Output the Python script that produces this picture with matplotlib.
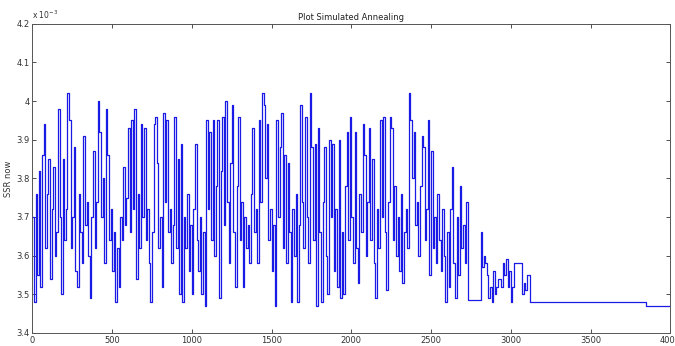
import numpy as np
from matplotlib import pyplot as plt

# SSR values (x 10^-3), one sample every 10 iterations from 0 to 2720
ssr_noisy = [
    3.70, 3.48, 3.76, 3.55, 3.82, 3.52, 3.86, 3.94, 3.62, 3.76,
    3.85, 3.54, 3.72, 3.83, 3.60, 3.66, 3.98, 3.70, 3.50, 3.85,
    3.64, 3.72, 4.02, 3.95, 3.62, 3.70, 3.88, 3.56, 3.52, 3.76,
    3.66, 3.58, 3.91, 3.68, 3.74, 3.60, 3.49, 3.70, 3.87, 3.62,
    3.74, 4.00, 3.92, 3.70, 3.80, 3.58, 3.98, 3.86, 3.64, 3.72,
    3.56, 3.66, 3.48, 3.62, 3.52, 3.70, 3.64, 3.83, 3.68, 3.75,
    3.93, 3.66, 3.95, 3.72, 3.98, 3.54, 3.76, 3.62, 3.94, 3.70,
    3.93, 3.64, 3.72, 3.58, 3.48, 3.66, 3.94, 3.96, 3.84, 3.62,
    3.70, 3.52, 3.97, 3.74, 3.95, 3.66, 3.72, 3.58, 3.68, 3.96,
    3.62, 3.85, 3.50, 3.89, 3.48, 3.70, 3.62, 3.76, 3.56, 3.68,
    3.50, 3.72, 3.89, 3.64, 3.56, 3.70, 3.50, 3.66, 3.47, 3.95,
    3.72, 3.92, 3.64, 3.95, 3.60, 3.78, 3.95, 3.49, 3.82, 3.96,
    3.68, 4.00, 3.74, 3.58, 3.84, 3.99, 3.66, 3.52, 3.78, 3.96,
    3.64, 3.74, 3.52, 3.70, 3.62, 3.68, 3.58, 3.76, 3.93, 3.66,
    3.72, 3.58, 3.95, 3.74, 4.02, 3.99, 3.80, 3.94, 3.64, 3.72,
    3.56, 3.68, 3.47, 3.95, 3.70, 3.88, 3.97, 3.62, 3.86, 3.58,
    3.84, 3.66, 3.48, 3.72, 3.60, 3.76, 3.48, 3.68, 3.99, 3.74,
    3.62, 3.96, 3.70, 3.58, 4.02, 3.88, 3.64, 3.89, 3.47, 3.93,
    3.66, 3.48, 3.74, 3.88, 3.60, 3.50, 3.90, 3.70, 3.89, 3.56,
    3.72, 3.52, 3.90, 3.49, 3.66, 3.50, 3.78, 3.92, 3.64, 3.96,
    3.70, 3.58, 3.92, 3.62, 3.53, 3.76, 3.66, 3.94, 3.86, 3.60,
    3.74, 3.93, 3.64, 3.85, 3.58, 3.49, 3.72, 3.62, 3.95, 3.70,
    3.96, 3.66, 3.51, 3.74, 3.96, 3.93, 3.64, 3.78, 3.60, 3.70,
    3.56, 3.76, 3.53, 3.66, 3.72, 3.62, 4.02, 3.95, 3.80, 3.92,
    3.68, 3.74, 3.60, 3.78, 3.91, 3.88, 3.64, 3.72, 3.95, 3.55,
    3.87, 3.62, 3.70, 3.58, 3.76, 3.64, 3.56, 3.72, 3.60, 3.48,
    3.66, 3.52, 3.72, 3.83, 3.58, 3.49, 3.70, 3.55, 3.78, 3.62,
    3.68, 3.58, 3.74,
]
iter_noisy = list(range(0, 2730, 10))

# late phase: iteration where the value changes, and the new value
iter_tail = [2730, 2810, 2820, 2830, 2840, 2850, 2860, 2870, 2880, 2890,
             2900, 2910, 2920, 2940, 2950, 2960, 2970, 2980, 2990, 3000,
             3010, 3020, 3070, 3080, 3090, 3100, 3120, 3850, 4000]
ssr_tail = [3.485, 3.66, 3.57, 3.60, 3.58, 3.55, 3.49, 3.52, 3.48, 3.56,
            3.50, 3.52, 3.54, 3.52, 3.58, 3.55, 3.59, 3.52, 3.56, 3.48,
            3.52, 3.58, 3.50, 3.53, 3.51, 3.55, 3.48, 3.47, 3.47]

x = iter_noisy + iter_tail
y = ssr_noisy + ssr_tail

fig = plt.figure(figsize=(6.75, 3.46), dpi=100)
ax = fig.add_axes([0.048, 0.038, 0.945, 0.893])
ax.plot(x, y, color='#1a1ae6', linewidth=0.9, drawstyle='steps-post')

ax.set_xlim(0, 4000)
ax.set_ylim(3.4, 4.2)
ax.set_xticks(np.arange(0, 4001, 500))
yt = [3.4, 3.5, 3.6, 3.7, 3.8, 3.9, 4.0, 4.1, 4.2]
ax.set_yticks(yt)
ax.set_yticklabels(['3.4', '3.5', '3.6', '3.7', '3.8', '3.9', '4', '4.1', '4.2'])
ax.tick_params(direction='in', top=True, right=True, labelsize=6,
               colors='#333333', length=3, width=0.6, pad=2)
for s in ax.spines.values():
    s.set_color('#555555')
    s.set_linewidth(0.7)

ax.set_title('Plot Simulated Annealing', fontsize=6, color='#222222', pad=3)
ax.set_ylabel('SSR now', fontsize=6, color='#333333', labelpad=2)
ax.text(0.0, 1.008, r'x 10$^{-3}$', transform=ax.transAxes, fontsize=5.5,
        color='#333333', ha='left', va='bottom')

fig.savefig('out.png', dpi=100)
